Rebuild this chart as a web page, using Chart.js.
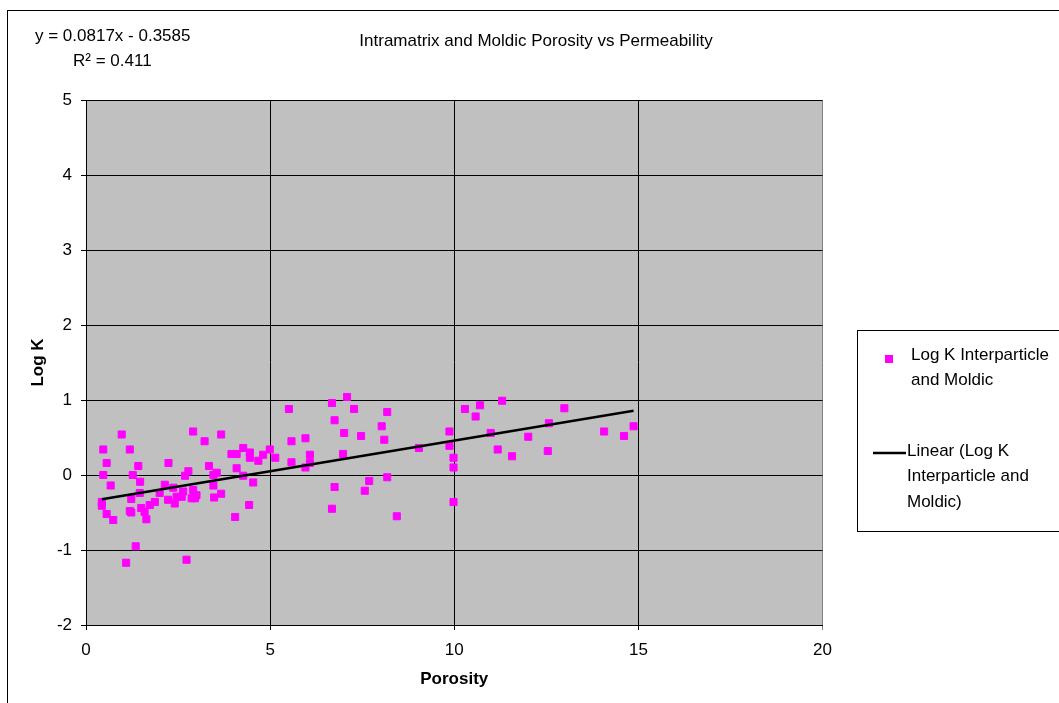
<!DOCTYPE html>
<html><head><meta charset="utf-8">
<script src="https://cdn.jsdelivr.net/npm/chart.js@4/dist/chart.umd.min.js"></script>
<style>html,body{margin:0;padding:0;background:#fff;overflow:hidden}#wrap{width:1059px;height:703px;position:relative}</style>
</head><body><div id="wrap"><canvas id="c" width="1059" height="703"></canvas></div>
<script>
const porosity = [0.97,2.91,3.67,3.22,0.47,1.19,0.56,1.42,2.24,0.47,1.27,1.47,0.67,2.78,2.69,3.34,3.55,3.46,3.46,3.95,4.09,4.27,4.45,4.45,4.68,4.81,4.09,4.27,4.54,4.43,4.05,3.67,3.48,2.14,2.37,2.00,1.46,1.23,0.43,0.43,0.56,0.74,1.19,1.23,1.50,1.59,1.64,1.73,1.87,2.23,2.41,2.46,2.60,2.64,2.91,3.00,2.96,2.87,1.35,1.09,2.73,
  5.51,6.68,7.09,7.28,6.75,8.18,8.03,7.01,7.47,8.10,5.58,5.96,6.98,6.08,6.08,5.96,5.58,9.04,4.99,5.14,8.18,7.69,7.57,6.75,6.68,8.44,
  10.29,10.70,10.58,11.30,12.99,9.87,9.87,9.98,9.98,9.98,10.99,11.18,11.57,12.01,12.57,12.54,14.07,14.61,14.87];
const logK = [0.54,0.58,0.54,0.45,0.34,0.34,0.16,0.12,0.16,0.00,0.00,-0.09,-0.14,0.05,-0.01,0.12,0.03,0.00,-0.14,0.28,0.28,0.36,0.30,0.23,0.19,0.27,0.09,-0.01,-0.10,-0.40,-0.56,-0.25,-0.30,-0.13,-0.17,-0.24,-0.24,-0.32,-0.36,-0.41,-0.52,-0.60,-0.48,-0.50,-0.44,-0.49,-0.59,-0.40,-0.36,-0.33,-0.38,-0.29,-0.29,-0.22,-0.20,-0.27,-0.31,-0.31,-0.95,-1.17,-1.13,
  0.88,0.96,1.04,0.88,0.73,0.84,0.65,0.56,0.52,0.47,0.45,0.49,0.28,0.27,0.16,0.10,0.17,0.36,0.34,0.23,-0.03,-0.08,-0.21,-0.16,-0.45,-0.55,
  0.88,0.93,0.78,0.99,0.89,0.58,0.39,0.23,0.10,-0.36,0.56,0.34,0.25,0.51,0.69,0.32,0.58,0.52,0.65];
const trendPorosity = [0.43, 14.87];
const trendLogK = [-0.323, 0.856];
const xTickValues = [0, 5, 10, 15, 20];
const yTickValues = [-2, -1, 0, 1, 2, 3, 4, 5];
const chartTitle = 'Intramatrix and Moldic Porosity vs Permeability';
const xTitle = 'Porosity';
const yTitle = 'Log K';
const seriesName = 'Log K Interparticle and Moldic';
const trendName = 'Linear (Log K Interparticle and Moldic)';
const seriesLegendLines = ['Log K Interparticle', 'and Moldic'];
const trendLegendLines = ['Linear (Log K', 'Interparticle and', 'Moldic)'];
const equationText = 'y = 0.0817x - 0.3585';
const r2Text = 'R\u00B2 = 0.411';

const FONT = "'Liberation Sans', Arial, sans-serif";
const FS = 17;
Chart.defaults.font.family = FONT;
Chart.defaults.font.size = FS;
Chart.defaults.color = '#000';

const decor = {
  id: 'decor',
  beforeDraw(chart) {
    const ctx = chart.ctx, a = chart.chartArea;
    ctx.save();
    ctx.fillStyle = '#fff';
    ctx.fillRect(0, 0, chart.width, chart.height);
    ctx.strokeStyle = '#000';
    ctx.lineWidth = 1;
    ctx.strokeRect(7.5, 10.5, 1200, 900);
    ctx.fillStyle = '#C0C0C0';
    ctx.fillRect(a.left, a.top, a.right - a.left, a.bottom - a.top);
    ctx.restore();
  },
  afterDraw(chart) {
    const ctx = chart.ctx;
    ctx.save();
    ctx.fillStyle = '#000';
    ctx.font = FS + 'px ' + FONT;
    ctx.textBaseline = 'middle';
    ctx.textAlign = 'center';
    ctx.fillText(chartTitle, 536, 41);
    ctx.textAlign = 'left';
    ctx.fillText(equationText, 35, 36);
    ctx.fillText(r2Text, 73, 61);
    // legend
    ctx.strokeStyle = '#000';
    ctx.lineWidth = 1;
    ctx.strokeRect(857.5, 330.5, 300, 201);
    ctx.fillStyle = '#FF00FF';
    ctx.fillRect(885, 355, 8, 8);
    ctx.fillStyle = '#000';
    seriesLegendLines.forEach((t, i) => ctx.fillText(t, 911, 355 + i * 25));
    ctx.lineWidth = 2.5;
    ctx.beginPath(); ctx.moveTo(873, 453); ctx.lineTo(906, 453); ctx.stroke();
    trendLegendLines.forEach((t, i) => ctx.fillText(t, 907, 451 + i * 25.5));
    ctx.restore();
  }
};

new Chart(document.getElementById('c'), {
  type: 'scatter',
  data: {
    datasets: [
      { label: trendName, type: 'scatter', showLine: true, order: 0,
        data: trendPorosity.map((x, i) => ({x, y: trendLogK[i]})),
        borderColor: '#000', borderWidth: 2.5, pointRadius: 0, fill: false },
      { label: seriesName, order: 1,
        data: porosity.map((x, i) => ({x, y: logK[i]})),
        pointStyle: 'rect', pointRadius: 5, borderWidth: 1,
        backgroundColor: '#FF00FF', borderColor: '#FF00FF' }
    ]
  },
  options: {
    responsive: false, animation: false, devicePixelRatio: 1,
    layout: { padding: { top: 100, right: 236.5, bottom: 0, left: 0 } },
    plugins: { legend: { display: false }, tooltip: { enabled: false }, title: { display: false } },
    scales: {
      x: {
        type: 'linear', min: 0, max: 20,
        afterBuildTicks: s => { s.ticks = xTickValues.map(v => ({value: v})); },
        afterFit: s => { s.height = 78; },
        ticks: { padding: 10, color: '#000', font: { size: FS } },
        grid: { color: ctx => (ctx.tick && ctx.tick.value === 20) ? '#808080' : '#000', lineWidth: 1, tickLength: 5 },
        border: { display: true, color: '#000', width: 1 },
        title: { display: true, text: xTitle, font: { size: FS, weight: 'bold' }, padding: { top: 0, bottom: 13 } }
      },
      y: {
        type: 'linear', min: -2, max: 5,
        afterBuildTicks: s => { s.ticks = yTickValues.map(v => ({value: v})); },
        afterFit: s => { s.width = 86; },
        ticks: { padding: 9, color: '#000', font: { size: FS } },
        grid: { color: '#000', lineWidth: 1, tickLength: 5 },
        border: { display: true, color: '#000', width: 1 },
        title: { display: true, text: yTitle, font: { size: FS, weight: 'bold' }, padding: { top: 28, bottom: 0 } }
      }
    }
  },
  plugins: [decor]
});
</script></body></html>
